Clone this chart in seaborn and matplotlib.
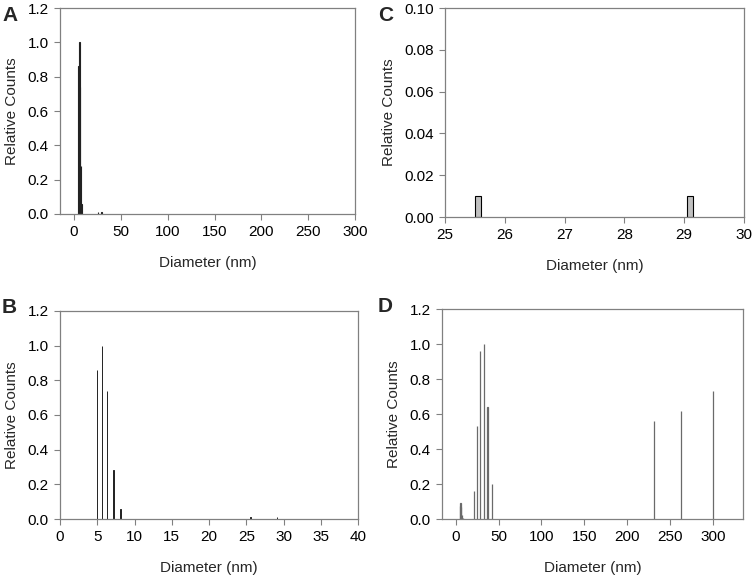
import matplotlib
matplotlib.use("Agg")
import matplotlib.pyplot as plt
import numpy as np
import seaborn as sns
from matplotlib.ticker import FormatStrFormatter

sns.set_theme(style="white")
plt.rcParams["font.family"] = ["Liberation Sans", "DejaVu Sans"]

# Size distribution (panels A, B, C share the same data)
diam_small = [4.95, 5.6, 6.3, 7.2, 8.1, 25.55, 29.1]
counts_small = [0.86, 1.0, 0.74, 0.28, 0.06, 0.01, 0.01]

# Panel D distribution
diam_d = [4.95, 5.6, 6.3, 7.2, 8.1, 21.8, 24.9, 28.8, 32.7, 37.0, 42.4, 231.0, 263.0, 300.0]
counts_d = [0.077, 0.09, 0.067, 0.025, 0.006, 0.16, 0.53, 0.96, 1.0, 0.64, 0.20, 0.56, 0.62, 0.73]

fig = plt.figure(figsize=(7.54, 5.79), dpi=100)

axA = fig.add_axes([0.0796, 0.6304, 0.3912, 0.3556])
axC = fig.add_axes([0.5902, 0.6252, 0.3965, 0.3608])
axB = fig.add_axes([0.0796, 0.1036, 0.3952, 0.3593])
axD = fig.add_axes([0.5862, 0.1036, 0.3992, 0.3627])


def draw_bars(ax, x, y, bar_w, face, edge, lw):
    # seaborn width is relative to the smallest spacing between x values
    step = np.diff(np.sort(x)).min()
    sns.barplot(x=x, y=y, native_scale=True, width=bar_w / step, errorbar=None,
                color=face, edgecolor=edge, linewidth=lw, saturation=1, ax=ax)


def style(ax, xlim, xticks, ylim, yticks, yfmt, letter, lx, ly):
    ax.set_xlim(*xlim)
    ax.set_xticks(xticks)
    ax.set_ylim(*ylim)
    ax.set_yticks(yticks)
    ax.yaxis.set_major_formatter(FormatStrFormatter(yfmt))
    ax.set_xlabel("Diameter (nm)", fontsize=11, labelpad=12)
    ax.set_ylabel("Relative Counts", fontsize=11, labelpad=6)
    for s in ax.spines.values():
        s.set_visible(True)
        s.set_color("#808080")
        s.set_linewidth(0.9)
    ax.tick_params(axis="both", direction="out", length=4, width=0.8,
                   color="#808080", labelsize=11, labelcolor="black", pad=4,
                   bottom=True, left=True)
    ax.set_facecolor("white")
    ax.text(lx, ly, letter, transform=ax.transAxes, fontsize=15,
            fontweight="bold", ha="left", va="center")


draw_bars(axA, diam_small, counts_small, 0.5, "#333333", "#222222", 0.8)
style(axA, (-15, 300), np.arange(0, 301, 50), (0, 1.2), np.arange(0, 1.21, 0.2),
      "%.1f", "A", -0.195, 0.963)

draw_bars(axB, diam_small, counts_small, 0.06, "#333333", "#222222", 0.7)
style(axB, (0, 40), np.arange(0, 41, 5), (0, 1.2), np.arange(0, 1.21, 0.2),
      "%.1f", "B", -0.196, 1.017)

draw_bars(axC, diam_small, counts_small, 0.09, "#c0c0c0", "black", 0.8)
style(axC, (25, 30), np.arange(25, 31, 1), (0, 0.1), np.arange(0, 0.101, 0.02),
      "%.2f", "C", -0.225, 0.966)

draw_bars(axD, diam_d, counts_d, 0.15, "#707070", "#6a6a6a", 0.9)
style(axD, (-16, 335), np.arange(0, 301, 50), (0, 1.2), np.arange(0, 1.21, 0.2),
      "%.1f", "D", -0.213, 1.012)

fig.savefig("out.png", dpi=100, facecolor="white")
